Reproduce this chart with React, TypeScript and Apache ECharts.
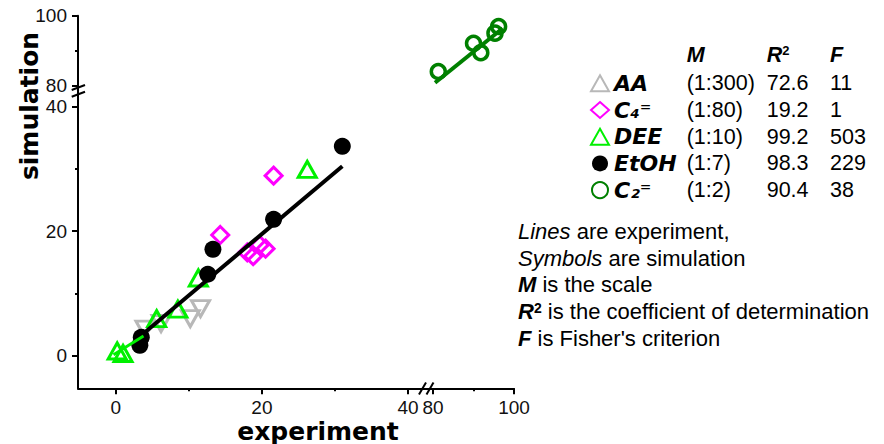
import { useEffect, useRef } from 'react';
import * as echarts from 'echarts';

// ---------- data ----------
const seriesNames = ['AA', 'C4', 'DEE', 'EtOH', 'C2'];
const scaleM = ['(1:300)', '(1:80)', '(1:10)', '(1:7)', '(1:2)'];
const r2Values = ['72.6', '19.2', '99.2', '98.3', '90.4'];
const fValues = ['11', '1', '503', '229', '38'];

// simulation (symbols): [experiment, simulation]
const aaSim = [[4.0, 4.3], [6.2, 5.2], [10.2, 6.0], [11.6, 7.6]];
const c4Sim = [[14.3, 19.4], [18.0, 16.6], [18.8, 16.0], [19.7, 17.8], [20.5, 17.2], [21.6, 28.9]];
const deeSim = [[0.2, 0.8], [1.0, 0.4], [5.6, 6.0], [8.5, 7.5], [11.3, 12.5], [26.2, 29.9]];
const etohSim = [[3.3, 1.7], [3.5, 3.0], [12.6, 13.1], [13.3, 17.1], [21.6, 21.9], [31.0, 33.6]];
const c2Sim = [[81.3, 84.0], [90.0, 92.1], [91.8, 89.4], [95.3, 95.0], [96.2, 96.9]];

// experiment (lines)
const etohExp = [[3.4, 3.2], [31.0, 30.4]];
const deeExp = [[-0.3, 0.2], [3.8, 3.2]];
const c2Exp = [[80.5, 80.8], [97.2, 96.4]];

// axis ticks
const xMajorLow = [0, 20, 40];
const xMinorLow = [10, 30];
const xMajorHigh = [80, 100];
const xMinorHigh = [90];
const yMajorLow = [0, 20, 40];
const yMinorLow = [10, 30];
const yMajorHigh = [80, 100];
const yMinorHigh = [90];

// axis ranges (broken axes)
const X_LOW = [-5.16, 42.31];
const X_HIGH = [78.02, 100];
const Y_LOW = [-5.18, 42.55];
const Y_HIGH = [78.57, 100];

const legendLabels: Record<string, string> = {
  AA: 'AA',
  C4: 'C\u2084\u207C',
  DEE: 'DEE',
  EtOH: 'EtOH',
  C2: 'C\u2082\u207C',
};

const notes = [
  '{i|Lines} are experiment,',
  '{i|Symbols} are simulation',
  '{b|M} is the scale',
  '{b|R}{bs|2} is the coefficient of determination',
  "{b|F} is Fisher's criterion",
];

const SANS = '"Liberation Sans", Arial, sans-serif';
const HEAVY = '"DejaVu Sans", sans-serif';

export default function App() {
  const ref = useRef<HTMLDivElement>(null);

  useEffect(() => {
    if (!ref.current) return;
    const chart = echarts.init(ref.current, null, { renderer: 'svg' });

    const axisLine = { show: true, onZero: false, lineStyle: { color: '#000', width: 2 } };
    const tickStyle = { color: '#000', width: 2 };
    const labelStyle = { color: '#111', fontSize: 19, lineHeight: 19, fontFamily: SANS };

    const mkX = (grid: number, range: number[], major: number[], offset: number) => ({
      type: 'value', gridIndex: grid, position: 'bottom', offset,
      min: range[0], max: range[1],
      axisLine,
      axisTick: { show: true, customValues: major, length: 6, lineStyle: tickStyle },
      axisLabel: { show: true, customValues: major, margin: 10, ...labelStyle },
      splitLine: { show: false },
    });
    const mkXMinor = (grid: number, range: number[], minor: number[], offset: number) => ({
      type: 'value', gridIndex: grid, position: 'bottom', offset,
      min: range[0], max: range[1],
      axisLine: { show: false, onZero: false },
      axisTick: { show: true, customValues: minor, length: 3, lineStyle: tickStyle },
      axisLabel: { show: false },
      splitLine: { show: false },
    });
    const mkY = (grid: number, range: number[], major: number[], offset: number) => ({
      type: 'value', gridIndex: grid, position: 'left', offset,
      min: range[0], max: range[1],
      axisLine,
      axisTick: { show: true, customValues: major, length: 6, lineStyle: tickStyle },
      axisLabel: { show: true, customValues: major, margin: 11, ...labelStyle },
      splitLine: { show: false },
    });
    const mkYMinor = (grid: number, range: number[], minor: number[], offset: number) => ({
      type: 'value', gridIndex: grid, position: 'left', offset,
      min: range[0], max: range[1],
      axisLine: { show: false, onZero: false },
      axisTick: { show: true, customValues: minor, length: 3, lineStyle: tickStyle },
      axisLabel: { show: false },
      splitLine: { show: false },
    });

    const hollow = 'rgba(0,0,0,0)';

    const graphics: any[] = [];
    // axis titles
    graphics.push({
      type: 'text', x: 29, y: 106, rotation: Math.PI / 2,
      style: { text: 'simulation', fontFamily: HEAVY, fontWeight: 'bold', fontSize: 25, lineHeight: 20, fill: '#000', align: 'center', verticalAlign: 'middle' },
    });
    graphics.push({
      type: 'text', x: 318, y: 431,
      style: { text: 'experiment', fontFamily: HEAVY, fontWeight: 'bold', fontSize: 25, lineHeight: 20, fill: '#000', align: 'center', verticalAlign: 'middle' },
    });
    // break marks
    const brk = [
      [71.7, 90, 85, 85], [71.7, 96.7, 85, 91.7],
      [419, 394.5, 426, 382.5], [426.5, 394.5, 433.5, 382.5],
    ];
    brk.forEach(([x1, y1, x2, y2]) => {
      graphics.push({ type: 'line', shape: { x1, y1, x2, y2 }, style: { stroke: '#000', lineWidth: 2 } });
    });
    // table header
    const colX = [686.7, 766.7, 830];
    const headRich = {
      b: { fontFamily: SANS, fontWeight: 'bold', fontStyle: 'italic', fontSize: 21.5, fill: '#000' },
      bs: { fontFamily: SANS, fontWeight: 'bold', fontSize: 13, fill: '#000', verticalAlign: 'top', lineHeight: 12 },
    };
    ['{b|M}', '{b|R}{bs|2}', '{b|F}'].forEach((t, i) => {
      graphics.push({ type: 'text', x: colX[i], y: 55, style: { text: t, rich: headRich, fontSize: 21.5, lineHeight: 22, align: 'left', verticalAlign: 'middle' } });
    });
    // table values
    const rowY0 = 83.3, rowStep = 26.7;
    [scaleM, r2Values, fValues].forEach((col, ci) => {
      col.forEach((v, ri) => {
        graphics.push({
          type: 'text', x: colX[ci], y: rowY0 + ri * rowStep,
          style: { text: v, fontFamily: SANS, fontSize: 21.5, fill: '#000', align: 'left', verticalAlign: 'middle' },
        });
      });
    });
    // notes
    const noteRich = {
      i: { fontFamily: SANS, fontStyle: 'italic', fontSize: 22, fill: '#000' },
      b: { fontFamily: SANS, fontWeight: 'bold', fontStyle: 'italic', fontSize: 22, fill: '#000' },
      bs: { fontFamily: SANS, fontWeight: 'bold', fontSize: 14, fill: '#000', verticalAlign: 'top', lineHeight: 12 },
    };
    notes.forEach((t, i) => {
      graphics.push({
        type: 'text', x: 518, y: 231.5 + i * 26.7,
        style: { text: t, rich: noteRich, fontFamily: SANS, fontSize: 22, lineHeight: 22, fill: '#000', align: 'left', verticalAlign: 'middle' },
      });
    });

    const option: any = {
      animation: false,
      backgroundColor: '#fff',
      grid: [
        { left: 78, top: 90.5, width: 347, height: 297.8 },
        { left: 425, top: 15.7, width: 89, height: 74.8 },
      ],
      xAxis: [
        mkX(0, X_LOW, xMajorLow, 0),
        mkX(1, X_HIGH, xMajorHigh, 297.8),
        mkXMinor(0, X_LOW, xMinorLow, 0),
        mkXMinor(1, X_HIGH, xMinorHigh, 297.8),
      ],
      yAxis: [
        mkY(0, Y_LOW, yMajorLow, 0),
        mkY(1, Y_HIGH, yMajorHigh, 347),
        mkYMinor(0, Y_LOW, yMinorLow, 0),
        mkYMinor(1, Y_HIGH, yMinorHigh, 347),
      ],
      legend: {
        data: seriesNames,
        orient: 'vertical',
        left: 590,
        top: 72.3,
        padding: 0,
        itemWidth: 18,
        itemHeight: 16,
        itemGap: 4.7,
        selectedMode: false,
        formatter: (n: string) => legendLabels[n],
        textStyle: {
          fontFamily: HEAVY, fontWeight: 'bold', fontStyle: 'italic', fontSize: 22, lineHeight: 22, color: '#000',
        },
      },
      graphic: graphics,
      series: [
        {
          name: 'AA', type: 'scatter', xAxisIndex: 0, yAxisIndex: 0, data: aaSim,
          symbol: 'triangle', symbolRotate: 180, symbolSize: [18, 16],
          itemStyle: { color: hollow, borderColor: '#b8b8b8', borderWidth: 3, opacity: 1 }, z: 2,
        },
        {
          name: 'C4', type: 'scatter', xAxisIndex: 0, yAxisIndex: 0, data: c4Sim,
          symbol: 'diamond', symbolSize: 17,
          itemStyle: { color: hollow, borderColor: '#ff00ff', borderWidth: 3, opacity: 1 }, z: 2,
        },
        {
          name: 'DEE', type: 'scatter', xAxisIndex: 0, yAxisIndex: 0, data: deeSim,
          symbol: 'triangle', symbolSize: [18, 16],
          itemStyle: { color: hollow, borderColor: '#00f000', borderWidth: 3, opacity: 1 }, z: 3,
        },
        {
          name: 'EtOH', type: 'scatter', xAxisIndex: 0, yAxisIndex: 0, data: etohSim,
          symbol: 'circle', symbolSize: 17,
          itemStyle: { color: '#000', opacity: 1 }, z: 4,
        },
        {
          name: 'C2', type: 'scatter', xAxisIndex: 1, yAxisIndex: 1, data: c2Sim,
          symbol: 'circle', symbolSize: 14,
          itemStyle: { color: hollow, borderColor: '#008000', borderWidth: 3.5, opacity: 1 }, z: 3,
        },
        {
          name: 'EtOH exp', type: 'line', xAxisIndex: 0, yAxisIndex: 0, data: etohExp,
          symbol: 'none', lineStyle: { color: '#000', width: 4 }, z: 5, silent: true,
        },
        {
          name: 'DEE exp', type: 'line', xAxisIndex: 0, yAxisIndex: 0, data: deeExp,
          symbol: 'none', lineStyle: { color: '#00f000', width: 3 }, z: 5, silent: true,
        },
        {
          name: 'C2 exp', type: 'line', xAxisIndex: 1, yAxisIndex: 1, data: c2Exp,
          symbol: 'none', lineStyle: { color: '#008000', width: 4 }, z: 5, silent: true,
        },
      ],
    };

    chart.setOption(option);
    return () => chart.dispose();
  }, []);

  return (
    <div
      ref={ref}
      style={{ position: 'absolute', left: 0, top: 0, width: 884, height: 444 }}
    />
  );
}
